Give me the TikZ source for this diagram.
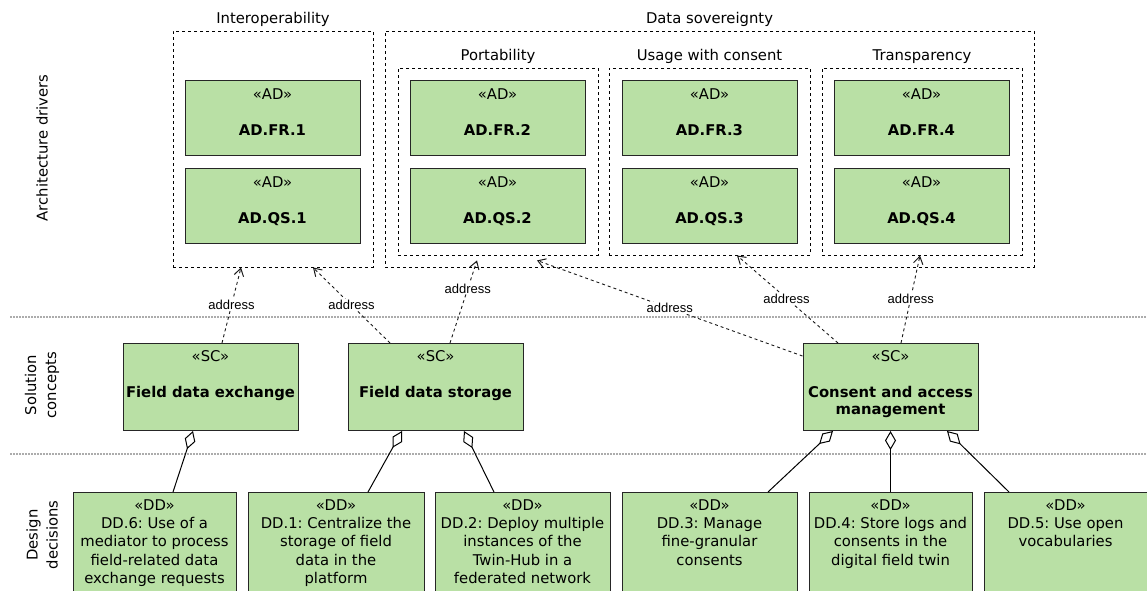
\documentclass[tikz,border=0pt]{standalone}
\usepackage{fontspec}
\setmainfont{DejaVu Sans}
\newfontfamily\labelfont{Liberation Sans}
\usetikzlibrary{arrows.meta}
\definecolor{boxgreen}{HTML}{B9E0A5}
\frenchspacing
\newcommand\fsN{\fontsize{14.8}{18.2}\selectfont}
\newcommand\fsL{\labelfont\fontsize{13}{15}\selectfont}
\newcommand\rows[1]{\begin{tabular}[t]{@{}c@{}}#1\end{tabular}}

% architecture driver: box, stereotype, bold name
\newcommand\ADnode[4]{%
  \node[elem, anchor=north] (#1) at (#2,#3) {};
  \node[txt] (#1-st) at ([yshift=-19.4pt]#1.north) {«AD»};
  \node[txt, font=\fsN\bfseries] (#1-nm) at ([yshift=-55.4pt]#1.north) {#4};
}
% solution concept
\newcommand\SCnode[4]{%
  \node[elem, anchor=north, minimum height=87] (#1) at (#2,#3) {};
  \node[txt] (#1-st) at ([yshift=-18.4pt]#1.north) {«SC»};
  \node[txt, font=\fontsize{14.8}{17}\selectfont\bfseries] (#1-nm) at ([yshift=-54.4pt]#1.north) {\rows{#4}};
}
% design decision
\newcommand\DDnode[4]{%
  \node[elem, anchor=north, minimum width=#3, minimum height=110] (#1) at (#2,492) {};
  \node[txt] (#1-tx) at ([yshift=-18.5pt]#1.north) {\rows{«DD»\\#4}};
}

\begin{document}
\begin{tikzpicture}[x=1pt,y=-1pt,
  grp/.style={draw=black, line width=0.9pt, dash pattern=on 3pt off 3pt, inner sep=0},
  elem/.style={draw=black!85, fill=boxgreen, line width=1pt, inner sep=0,
    minimum width=175, minimum height=75},
  txt/.style={anchor=base, inner sep=0, font=\fsN},
  title/.style={anchor=base, inner sep=0, font=\fsN},
  side/.style={inner sep=0, font=\fontsize{14.8}{20}\selectfont, align=center, rotate=90},
  sep/.style={draw=gray!65, line width=1.6pt, dash pattern=on 1.5pt off 1.5pt},
  dep/.style={draw=black!90, line width=0.9pt, dash pattern=on 3pt off 3pt,
    -{Straight Barb[length=7.5pt,width=9.5pt,line width=1pt]}},
  addr/.style={font=\fsL, fill=white, inner sep=1pt},
  agg/.style={draw=black, line width=1pt,
    {Diamond[open,length=19pt,width=11pt,line width=1pt]}-}
]
\useasboundingbox (0,0) rectangle (1147,590);

% layer separators
\coordinate (sepA-l) at (10,317);  \coordinate (sepA-r) at (1147,317);
\coordinate (sepB-l) at (10,454);  \coordinate (sepB-r) at (1147,454);
\draw[sep] (sepA-l) -- (sepA-r);
\draw[sep] (sepB-l) -- (sepB-r);

% layer names
\node[side] (lay-ad) at (42,148) {Architecture drivers};
\node[side] (lay-sc) at (42,385) {Solution\\concepts};
\node[side] (lay-dd) at (42,535) {Design\\decisions};

% driver groups
\node[grp, minimum width=200, minimum height=236] (interop) at (273,149) {};
\node[grp, minimum width=649, minimum height=236] (dsov) at (709.5,149) {};
\node[grp, minimum width=200, minimum height=187] (port) at (498,161.5) {};
\node[grp, minimum width=201, minimum height=187] (usage) at (709.5,161.5) {};
\node[grp, minimum width=200, minimum height=187] (transp) at (922,161.5) {};

\node[title] (interop-t) at (273,23.5) {Interoperability};
\node[title] (dsov-t) at (709.5,23.5) {Data sovereignty};
\node[title] (port-t) at (498,60.5) {Portability};
\node[title] (usage-t) at (709.5,60.5) {Usage with consent};
\node[title] (transp-t) at (922,60.5) {Transparency};

% architecture drivers
\ADnode{fr1}{272.5}{80}{AD.FR.1}
\ADnode{qs1}{272.5}{168}{AD.QS.1}
\ADnode{fr2}{497.5}{80}{AD.FR.2}
\ADnode{qs2}{497.5}{168}{AD.QS.2}
\ADnode{fr3}{709.5}{80}{AD.FR.3}
\ADnode{qs3}{709.5}{168}{AD.QS.3}
\ADnode{fr4}{921.5}{80}{AD.FR.4}
\ADnode{qs4}{921.5}{168}{AD.QS.4}

% solution concepts
\SCnode{fde}{210.5}{343}{Field data exchange}
\SCnode{fds}{435.5}{343}{Field data storage}
\SCnode{cam}{890.5}{343}{Consent and access\\management}

% design decisions
\DDnode{dd6}{154.5}{163}{DD.6: Use of a\\mediator to process\\field-related data\\exchange requests}
\DDnode{dd1}{336}{176}{DD.1: Centralize the\\storage of field\\data in the\\platform}
\DDnode{dd2}{522.5}{175}{DD.2: Deploy multiple\\instances of the\\Twin-Hub in a\\federated network}
\DDnode{dd3}{709.5}{175}{DD.3: Manage\\fine-granular\\consents}
\DDnode{dd4}{890.5}{163}{DD.4: Store logs and\\consents in the\\digital field twin}
\DDnode{dd5}{1065.5}{163}{DD.5: Use open\\vocabularies}

% "address" dependencies
\draw[dep] ([xshift=11.5pt]fde.north) -- node[addr,pos=.5]{address} ([xshift=-32pt]interop.south);
\draw[dep] ([xshift=-45.5pt]fds.north) -- node[addr,pos=.5]{address} ([xshift=40pt]interop.south);
\draw[dep] ([xshift=14.5pt]fds.north) -- node[addr,pos=.66]{address} ([xshift=-21pt,yshift=-5pt]port.south);
\draw[dep] ([yshift=-13pt]cam.north west) -- node[addr,pos=.5]{address} ([xshift=39pt,yshift=-5pt]port.south);
\draw[dep] ([xshift=-52.5pt]cam.north) -- node[addr,pos=.51]{address} ([xshift=27.5pt]usage.south);
\draw[dep] ([xshift=10.5pt]cam.north) -- node[addr,pos=.51]{address} ([xshift=-2pt]transp.south);

% aggregations
\draw[agg] ([xshift=-17.5pt]fde.south) -- ([xshift=18.5pt]dd6.north);
\draw[agg] ([xshift=-33.5pt]fds.south) -- ([xshift=32pt]dd1.north);
\draw[agg] ([xshift=28.5pt]fds.south) -- ([xshift=-28.5pt]dd2.north);
\draw[agg] ([xshift=-57.5pt]cam.south) -- ([xshift=58.5pt]dd3.north);
\draw[agg] (cam.south) -- (dd4.north);
\draw[agg] ([xshift=56.5pt]cam.south) -- ([xshift=-56.5pt]dd5.north);
\end{tikzpicture}
\end{document}
